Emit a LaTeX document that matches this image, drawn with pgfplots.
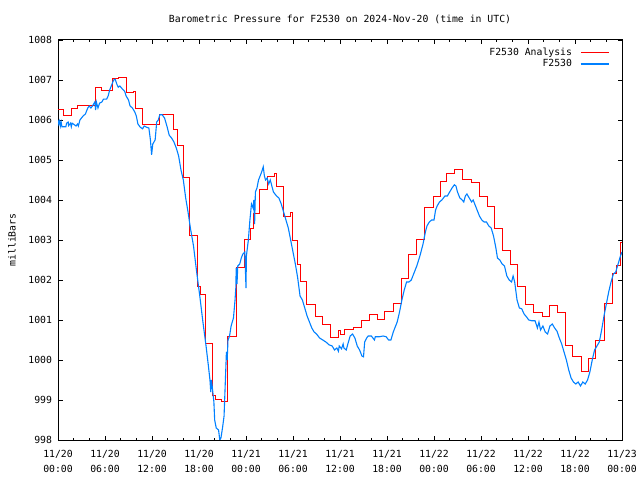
\documentclass[border=0pt]{standalone}
\usepackage{fontspec}
\setmainfont{DejaVu Sans Mono}
\usepackage{pgfplots}
\pgfplotsset{compat=1.18}
\definecolor{gred}{RGB}{255,0,0}
\definecolor{gblue}{RGB}{0,128,255}
\begin{document}
\fontsize{9.8bp}{11bp}\selectfont
\begin{tikzpicture}
\path[use as bounding box] (0,0) rectangle (640bp,480bp);
\begin{axis}[
  at={(58bp,40bp)}, anchor=south west,
  scale only axis, width=564bp, height=400bp,
  xmin=0, xmax=72, ymin=998, ymax=1008,
  xtick={0,6,...,72},
  xticklabels={{11/20\\00:00},{11/20\\06:00},{11/20\\12:00},{11/20\\18:00},{11/21\\00:00},{11/21\\06:00},{11/21\\12:00},{11/21\\18:00},{11/22\\00:00},{11/22\\06:00},{11/22\\12:00},{11/22\\18:00},{11/23\\00:00}},
  minor x tick num=2,
  ytick={998,999,...,1008},
  tick align=inside,
  major tick length=4.5bp, minor tick length=2.5bp,
  tick style={black, line width=0.8bp},
  axis line style={line width=1bp},
  xticklabel style={align=center, font=\fontsize{9.8bp}{15bp}\selectfont, yshift=-7bp},
  yticklabel style={font=\fontsize{9.8bp}{11bp}\selectfont, xshift=-2.5bp},
  /pgf/number format/assume math mode=true,
  /pgf/number format/1000 sep={},
  ylabel={milliBars},
  ylabel style={at={(axis description cs:-0.0816,0.5)}, anchor=center, rotate=0, font=\fontsize{9.8bp}{11bp}\selectfont},
  title={Barometric Pressure for F2530 on 2024-Nov-20 (time in UTC)},
  title style={at={(axis description cs:0.5,1.0375)}, anchor=center, font=\fontsize{9.8bp}{11bp}\selectfont},
  legend plot pos=right,
  legend cell align=right,
  legend style={draw=none, fill=none, at={(axis description cs:1,1)}, anchor=north east, xshift=-9bp, yshift=-4bp, font=\fontsize{9.8bp}{11bp}\selectfont, row sep=-1.5bp, /tikz/every odd column/.append style={column sep=6bp}},
]
\addplot[color=gred, draw=gred, const plot, line width=1bp, mark=none, xshift=0.5bp,
  legend image code/.code={\draw[gred, line width=1.3bp] (0bp,0bp) -- (28bp,0bp);}] coordinates {
(0,1006.2625) (0.702,1006.1125) (1.723,1006.2875) (2.489,1006.3625) (4.787,1006.8125)
(5.553,1006.7375) (6.830,1007.0375) (7.723,1007.0625) (8.617,1006.6875) (9.511,1006.7125)
(9.766,1006.2875) (10.660,1005.8875) (12.830,1006.1375) (14.617,1005.7625) (15.128,1005.3625)
(15.894,1004.5625) (16.660,1003.1125) (17.681,1001.8375) (18.191,1001.6375) (18.702,1000.4125)
(19.596,999.1125) (19.979,999.0125) (20.745,998.9625) (21.638,1000.5875) (22.660,1002.3125)
(23.681,1003.0125) (24.447,1003.2875) (24.830,1003.6625) (25.723,1004.2625) (26.617,1004.5875)
(27.511,1004.6625) (27.766,1004.3375) (28.660,1003.5875) (29.553,1003.6875) (29.809,1002.9875)
(30.574,1002.3875) (30.830,1001.9625) (31.596,1001.3875) (32.745,1001.0875) (33.638,1000.8875)
(34.660,1000.5625) (35.681,1000.7375) (35.936,1000.6375) (36.574,1000.7625) (37.596,1000.8125)
(38.617,1000.9875) (39.638,1001.1375) (40.660,1001.0125) (41.553,1001.2125) (42.702,1001.4125)
(43.723,1002.0375) (44.617,1002.6375) (45.638,1003.0125) (46.660,1003.8125) (47.809,1004.0875)
(48.702,1004.4625) (49.468,1004.6625) (50.489,1004.7625) (51.511,1004.5125) (52.660,1004.4375)
(53.681,1004.0875) (54.702,1003.8375) (55.596,1003.2875) (56.617,1002.7375) (57.638,1002.3875)
(58.532,1001.8375) (59.553,1001.3875) (60.574,1001.1875) (61.723,1001.0875) (62.617,1001.3625)
(63.638,1001.1875) (64.660,1000.3625) (65.553,1000.0875) (66.702,999.7125) (67.596,1000.0375)
(68.489,1000.4875) (69.638,1001.4125) (70.660,1002.1625) (71.170,1002.3625) (71.681,1002.9375)
(72,1002.9375)
};
\addlegendentry{F2530 Analysis}
\addplot[color=gblue, draw=gblue, line width=1.1bp, mark=none,
  legend image code/.code={\draw[gblue, line width=1.3bp] (0bp,0bp) -- (28bp,0bp);}] coordinates {
(0,1006.0) (0.1,1005.9) (0.2,1005.97) (0.3,1005.85) (0.4,1005.95) (0.5,1005.83) (1.0,1005.83)
(1.1,1005.92) (1.3,1005.95) (1.35,1005.86) (1.6,1005.92) (1.7,1005.83) (1.8,1005.92) (2.1,1005.88) (2.3,1005.85) (2.5,1005.9)
(2.6,1005.85) (2.8,1006.0) (3.0,1006.05) (3.2,1006.1) (3.5,1006.15) (3.8,1006.3) (4.0,1006.35)
(4.2,1006.3) (4.4,1006.35) (4.7,1006.45) (4.8,1006.25) (4.9,1006.45) (5.1,1006.3) (5.3,1006.42)
(5.6,1006.45) (5.8,1006.52) (6.2,1006.52) (6.4,1006.6) (6.6,1006.75) (6.9,1006.9) (7.1,1007.0)
(7.3,1007.02) (7.5,1006.9) (7.7,1006.82) (7.9,1006.85) (8.2,1006.78) (8.5,1006.72) (8.7,1006.6)
(9.0,1006.5) (9.2,1006.35) (9.5,1006.3) (9.8,1006.2) (10.0,1006.1) (10.2,1005.9) (10.5,1005.82)
(10.8,1005.78) (11.0,1005.85) (11.3,1005.82) (11.6,1005.8) (11.8,1005.5) (11.95,1005.13)
(12.1,1005.4) (12.4,1005.5) (12.6,1005.95) (12.8,1006.0) (13.0,1006.13) (13.3,1006.13)
(13.6,1006.05) (13.9,1005.85) (14.2,1005.62) (14.5,1005.55) (14.8,1005.45) (15.1,1005.3)
(15.4,1005.1) (15.7,1004.75) (16.0,1004.5) (16.3,1004.05) (16.6,1003.7) (16.9,1003.3)
(17.3,1002.85) (17.7,1002.2) (18.1,1001.6) (18.5,1000.95) (18.9,1000.35) (19.2,999.85)
(19.4,999.5) (19.5,999.2) (19.6,999.5) (19.9,998.95) (20.0,998.5) (20.2,998.3) (20.5,998.25)
(20.65,998.0) (20.8,998.05) (21.0,998.3) (21.2,998.6) (21.35,999.4) (21.5,1000.2) (21.6,1000.0)
(21.7,1000.5) (21.9,1000.6) (22.1,1000.85) (22.4,1001.05) (22.6,1001.5) (22.7,1001.8)
(22.75,1002.3) (22.85,1001.9) (22.95,1002.35) (23.2,1002.4) (23.4,1002.55) (23.6,1002.65)
(23.85,1002.7) (24.0,1001.8) (24.05,1002.6) (24.3,1003.0) (24.5,1003.5) (24.7,1003.9)
(24.9,1003.8) (25.0,1004.0) (25.1,1003.4) (25.2,1004.2) (25.4,1004.3) (25.6,1004.5) (25.8,1004.6)
(26.0,1004.7) (26.2,1004.83) (26.35,1004.6) (26.5,1004.5) (26.7,1004.55) (26.9,1004.4)
(27.1,1004.5) (27.3,1004.35) (27.5,1004.2) (27.7,1004.15) (27.9,1004.1) (28.2,1004.05)
(28.5,1003.9) (28.8,1003.7) (29.1,1003.5) (29.4,1003.3) (29.7,1003.0) (30.0,1002.7)
(30.3,1002.4) (30.6,1002.05) (30.9,1001.6) (31.2,1001.5) (31.5,1001.3) (31.8,1001.1)
(32.1,1000.95) (32.4,1000.8) (32.7,1000.7) (33.0,1000.65) (33.4,1000.55) (33.8,1000.5)
(34.2,1000.45) (34.6,1000.38) (35.0,1000.35) (35.3,1000.25) (35.6,1000.3) (35.8,1000.22) (35.9,1000.35)
(36.2,1000.28) (36.4,1000.4) (36.5,1000.3) (36.8,1000.25) (37.0,1000.4) (37.3,1000.6) (37.6,1000.65)
(37.9,1000.55) (38.2,1000.35) (38.5,1000.25) (38.8,1000.1) (39.0,1000.08) (39.15,1000.45)
(39.4,1000.55) (39.6,1000.6) (40.0,1000.6) (40.4,1000.5) (40.5,1000.58) (41.0,1000.58) (41.5,1000.6)
(41.9,1000.58) (42.2,1000.5) (42.5,1000.5) (42.8,1000.7) (43.0,1000.8) (43.3,1000.95)
(43.6,1001.2) (43.9,1001.5) (44.2,1001.75) (44.5,1001.95) (44.8,1001.95) (45.1,1002.0)
(45.4,1002.15) (45.8,1002.35) (46.2,1002.6) (46.6,1002.9) (46.9,1003.2) (47.1,1003.35)
(47.4,1003.45) (47.7,1003.5) (48.0,1003.5) (48.2,1003.75) (48.4,1003.85) (48.7,1003.95)
(49.0,1004.0) (49.4,1004.1) (49.7,1004.1) (50.0,1004.2) (50.3,1004.3) (50.6,1004.38)
(50.8,1004.35) (51.0,1004.2) (51.3,1004.05) (51.6,1004.0) (51.8,1003.95) (52.0,1004.1)
(52.2,1004.15) (52.5,1004.05) (52.8,1003.95) (53.0,1004.0) (53.2,1003.9) (53.5,1003.75)
(53.8,1003.6) (54.1,1003.5) (54.4,1003.45) (54.7,1003.45) (55.0,1003.35) (55.3,1003.3)
(55.6,1003.1) (55.9,1002.8) (56.1,1002.55) (56.4,1002.5) (56.7,1002.4) (57.0,1002.35)
(57.3,1002.1) (57.6,1002.0) (57.9,1001.95) (58.1,1002.1) (58.3,1001.95) (58.6,1001.5)
(58.9,1001.3) (59.2,1001.28) (59.5,1001.15) (59.8,1001.08) (60.1,1001.0) (60.5,1000.98)
(60.9,1000.98) (61.2,1000.8) (61.4,1000.95) (61.6,1000.75) (61.9,1000.85) (62.2,1000.7)
(62.5,1000.65) (62.8,1000.85) (63.1,1000.9) (63.4,1000.8) (63.7,1000.72) (64.0,1000.55)
(64.3,1000.4) (64.6,1000.2) (64.9,1000.0) (65.2,999.75) (65.5,999.55) (65.8,999.45)
(66.1,999.4) (66.4,999.45) (66.7,999.35) (67.0,999.45) (67.3,999.4) (67.6,999.5) (67.9,999.7)
(68.2,1000.0) (68.5,1000.25) (68.8,1000.35) (69.1,1000.45) (69.4,1000.75) (69.7,1001.1)
(70.0,1001.4) (70.3,1001.7) (70.6,1001.95) (70.9,1002.15) (71.2,1002.2) (71.5,1002.4)
(71.8,1002.6) (72,1002.7)
};
\addlegendentry{F2530}
\end{axis}
\end{tikzpicture}
\end{document}
